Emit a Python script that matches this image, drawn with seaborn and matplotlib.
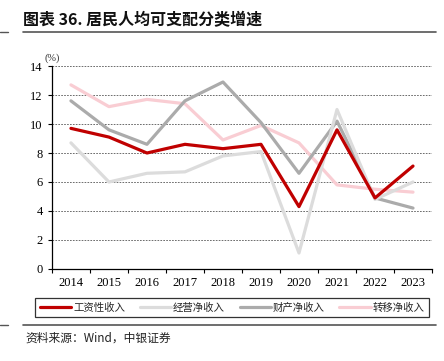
import pandas as pd
import seaborn as sns
import matplotlib.pyplot as plt
from matplotlib.lines import Line2D

years = ['2014', '2015', '2016', '2017', '2018', '2019', '2020', '2021', '2022', '2023']
wage = [9.7, 9.1, 8.0, 8.6, 8.3, 8.6, 4.3, 9.6, 4.9, 7.1]
business = [8.7, 6.0, 6.6, 6.7, 7.8, 8.1, 1.1, 11.0, 4.8, 6.0]
property_ = [11.6, 9.6, 8.6, 11.6, 12.9, 10.1, 6.6, 10.2, 4.9, 4.2]
transfer = [12.7, 11.2, 11.7, 11.4, 8.9, 9.9, 8.7, 5.8, 5.5, 5.3]

names = ['工资性收入', '经营净收入', '财产净收入', '转移净收入']
colors = ['#C00000', '#DCDCDC', '#ABABAB', '#F9CDD3']

rows = []
for name, vals in zip(names, [wage, business, property_, transfer]):
    for i, v in enumerate(vals):
        rows.append({'x': i, 'year': years[i], 'series': name, 'value': v})
df = pd.DataFrame(rows)

sns.set_theme(style='white')
plt.rcParams['font.family'] = ['Liberation Serif', 'Noto Sans CJK SC', 'DejaVu Sans']

fig = plt.figure(figsize=(4.44, 3.61), dpi=100)
ax = fig.add_axes([0.117, 0.255, 0.856, 0.562])

# draw in order so red sits on top
order = ['转移净收入', '财产净收入', '经营净收入', '工资性收入']
for name in order:
    sub = df[df['series'] == name]
    sns.lineplot(data=sub, x='x', y='value', ax=ax, color=colors[names.index(name)],
                 linewidth=2.3, legend=False, zorder=3 if name == '工资性收入' else 2)

ax.set_xlim(-0.5, 9.5)
ax.set_ylim(0, 14)
ax.set_yticks(range(0, 15, 2))
ax.set_xticks(range(10))
ax.set_xticklabels(years)
ax.set_xticks([i - 0.5 for i in range(11)], minor=True)
ax.tick_params(axis='x', which='major', length=0, labelsize=9, pad=6, colors='black')
ax.tick_params(axis='x', which='minor', length=3, width=0.8, direction='out', color='black', bottom=True)
ax.tick_params(axis='y', length=3, width=0.8, direction='out', labelsize=9, colors='black', left=True)
ax.set_xlabel('')
ax.set_ylabel('')
ax.grid(axis='y', linestyle=(0, (2, 1.5)), color='#555555', linewidth=0.6)
ax.set_axisbelow(True)
for s in ['top', 'right']:
    ax.spines[s].set_visible(False)
for s in ['left', 'bottom']:
    ax.spines[s].set_color('black')
    ax.spines[s].set_linewidth(0.9)

fig.text(0.118, 0.84, '(%)', fontsize=7.5, ha='center', va='center', color='#333333')

fig.text(0.052, 0.943, '图表 36. 居民人均可支配分类增速', fontsize=11.5, fontweight='bold',
         ha='left', va='center', family=['Noto Sans CJK SC', 'DejaVu Sans'], color='#111111')
fig.add_artist(Line2D([0.052, 0.982], [0.911, 0.911], color='#555555', linewidth=1.2))
fig.add_artist(Line2D([0.0, 0.018], [0.911, 0.911], color='#555555', linewidth=1.0))

handles = [Line2D([], [], color=c, linewidth=2.3) for c in colors]
leg = fig.legend(handles, names, loc='center', bbox_to_anchor=(0.523, 0.148), ncol=4,
                 frameon=True, fancybox=False, edgecolor='black',
                 handlelength=3.0, handletextpad=0.2, columnspacing=1.4,
                 borderpad=0.45, prop={'family': ['Noto Sans CJK SC', 'DejaVu Sans'], 'size': 7.5})
leg.get_frame().set_linewidth(0.9)

fig.add_artist(Line2D([0.052, 0.982], [0.1, 0.1], color='#555555', linewidth=1.2))
fig.add_artist(Line2D([0.0, 0.018], [0.1, 0.1], color='#555555', linewidth=1.0))
fig.text(0.058, 0.063, '资料来源：Wind，中银证券', fontsize=8.5, style='italic', ha='left', va='center',
         family=['Noto Sans CJK SC', 'DejaVu Sans'], color='#222222')

fig.savefig('out.png', dpi=100)
